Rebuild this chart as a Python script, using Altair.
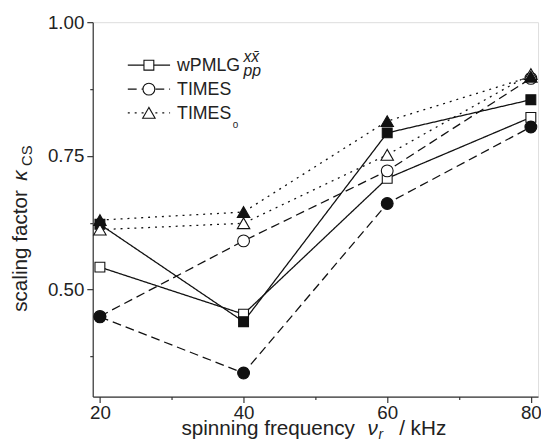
import altair as alt
import pandas as pd

freq = [20, 40, 60, 80]
wpmlg_open = [0.542, 0.454, 0.708, 0.822]
wpmlg_filled = [0.622, 0.440, 0.793, 0.855]
times_open = [0.450, 0.591, 0.722, 0.895]
times_filled = [0.449, 0.344, 0.661, 0.804]
times0_open = [0.612, 0.624, 0.752, 0.903]
times0_filled = [0.630, 0.645, 0.815, 0.898]

series = [
    ("wPMLG open", wpmlg_open, "square", False, [1, 0], 100),
    ("wPMLG filled", wpmlg_filled, "square", True, [1, 0], 100),
    ("TIMES open", times_open, "circle", False, [9, 5], 144),
    ("TIMES filled", times_filled, "circle", True, [9, 5], 144),
    ("TIMES0 open", times0_open, "triangle-up", False, [2, 5], 160),
    ("TIMES0 filled", times0_filled, "triangle-up", True, [2, 5], 160),
]

rows = []
for name, vals, *_ in series:
    for f, v in zip(freq, vals):
        rows.append({"series": name, "freq": f, "kappa": v})
df = pd.DataFrame(rows)

FONT = "Liberation Sans"
AX = "#333333"

x_axis = alt.Axis(
    values=[20, 30, 40, 50, 60, 70, 80],
    labelExpr="datum.value % 20 == 0 ? datum.label : ''",
    tickSize={"condition": {"test": "datum.value % 20 == 0", "value": 6}, "value": 3},
    grid=False, title=None, domainColor=AX, tickColor=AX, domainWidth=1.2, tickWidth=1.2,
    labelFont=FONT, labelFontSize=19, labelColor="#222", labelPadding=1,
)
y_axis = alt.Axis(
    values=[0.375, 0.5, 0.625, 0.75, 0.875, 1.0],
    labelExpr="(datum.value * 8) % 2 == 0 ? format(datum.value, '.2f') : ''",
    tickSize={"condition": {"test": "(datum.value * 8) % 2 == 0", "value": 6}, "value": 3},
    grid=False, title=None, domainColor=AX, tickColor=AX, domainWidth=1.2, tickWidth=1.2,
    labelFont=FONT, labelFontSize=19, labelColor="#222", labelPadding=3,
)
X = alt.X("freq:Q", scale=alt.Scale(domain=[19, 81], nice=False, zero=False), axis=x_axis)
Y = alt.Y("kappa:Q", scale=alt.Scale(domain=[0.3, 1.0], nice=False, zero=False), axis=y_axis)

layers = []
for name, vals, shape, filled, dash, size in series:
    base = alt.Chart(df).transform_filter(alt.datum.series == name)
    layers.append(base.mark_line(color="#111", strokeWidth=1.3, strokeDash=dash).encode(x=X, y=Y))
for name, vals, shape, filled, dash, size in series:
    base = alt.Chart(df).transform_filter(alt.datum.series == name)
    layers.append(base.mark_point(shape=shape, filled=True, fill="#111" if filled else "white",
                                  stroke="#111", strokeWidth=1.1, size=size, opacity=1)
                  .encode(x=X, y=Y))

one = pd.DataFrame({"a": [0]})

def txt(s, x, y, size=18, style="normal", angle=0, baseline="middle"):
    return alt.Chart(one).mark_text(text=s, align="left", baseline=baseline, font=FONT,
                                    fontSize=size, fontStyle=style, angle=angle,
                                    color="#222").encode(x=alt.value(x), y=alt.value(y))

# legend
for yy, dash, shape, size in [(43.7, [1, 0], "square", 100), (68, [9, 5], "circle", 144),
                              (92, [2, 5], "triangle-up", 160)]:
    layers.append(alt.Chart(one).mark_rule(color="#111", strokeWidth=1.3, strokeDash=dash)
                  .encode(x=alt.value(35.6), x2=alt.value(78.5), y=alt.value(yy)))
    layers.append(alt.Chart(one).mark_point(shape=shape, filled=True, fill="white", stroke="#111",
                                            strokeWidth=1.1, size=size, opacity=1)
                  .encode(x=alt.value(57), y=alt.value(yy)))
layers.append(txt("wPMLG", 85.6, 45))
layers.append(txt("xx\u0304", 153, 35, size=16, style="italic"))
layers.append(txt("pp", 153, 50, size=16, style="italic"))
layers.append(txt("TIMES", 85.6, 69))
layers.append(txt("TIMES", 85.6, 93))
layers.append(txt("0", 142, 104, size=10))

# y title
layers.append(txt("scaling factor", -66.5, 294, size=21, angle=270, baseline="alphabetic"))
layers.append(txt("\u03ba", -66.5, 161, size=21, style="italic", angle=270, baseline="alphabetic"))
layers.append(txt("CS", -62, 146, size=15, angle=270, baseline="alphabetic"))

# x title
layers.append(txt("spinning frequency", 90, 419, size=21, baseline="alphabetic"))
layers.append(txt("\u03bd", 279, 419, size=21, style="italic", baseline="alphabetic"))
layers.append(txt("r", 290, 423, size=14, style="italic", baseline="alphabetic"))
layers.append(txt("/ kHz", 311, 419, size=21, baseline="alphabetic"))

chart = alt.layer(*layers).properties(
    width=452, height=380,
    autosize=alt.AutoSizeParams(type="none"),
    padding={"left": 86, "top": 11, "right": 3, "bottom": 60},
).configure_view(stroke=None).configure(background="white")

chart.save("out.html", embed_options={"renderer": "svg", "actions": False})
